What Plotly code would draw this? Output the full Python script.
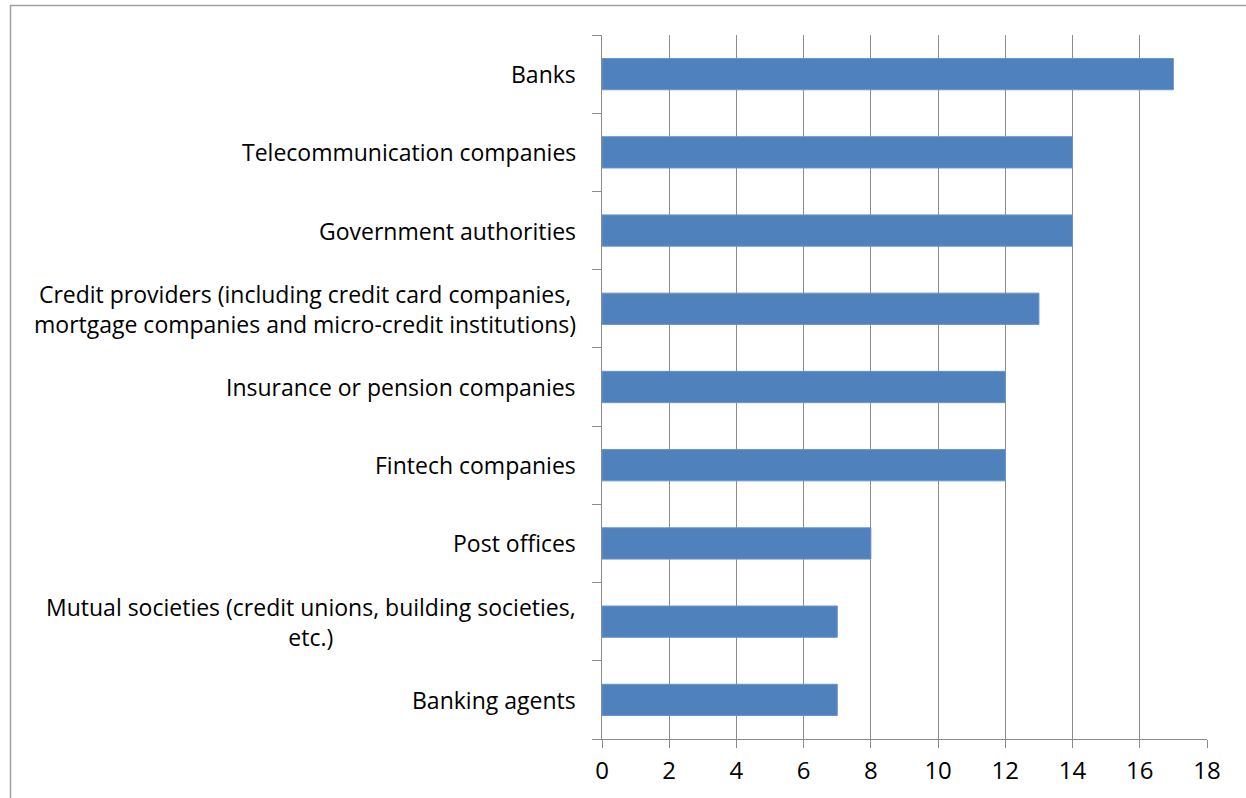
import plotly.graph_objects as go

categories = [
    "Banks",
    "Telecommunication companies",
    "Government authorities",
    "Credit providers (including credit card companies,<br>mortgage companies and micro-credit institutions)",
    "Insurance or pension companies",
    "Fintech companies",
    "Post offices",
    "Mutual societies (credit unions, building societies,<br>etc.)",
    "Banking agents",
]
values = [17, 14, 14, 13, 12, 12, 8, 7, 7]
x_ticks = [0, 2, 4, 6, 8, 10, 12, 14, 16, 18]

W, H = 1246, 798
L, R, T, B = 602, 39, 35, 59
pw, ph = W - L - R, H - T - B

FONT = "Open Sans"
FS = 23
GRID = "#8c8c8c"

fig = go.Figure(go.Bar(
    x=values, y=categories, orientation="h",
    marker=dict(color="#4f81bd", line=dict(color="#6a95c9", width=1)),
    hoverinfo="x+y",
))

annotations = []
for c in categories:
    annotations.append(dict(
        x=0, xref="paper", y=c, yref="y", text=c, showarrow=False,
        xanchor="right", yanchor="middle", align="center", xshift=-24,
        font=dict(family=FONT, size=FS, color="#000000"),
    ))

def px_x(p):
    return (p - L) / pw

def px_y(p):
    return (H - B - p) / ph

shapes = [
    dict(type="line", xref="paper", yref="paper", x0=px_x(10), x1=px_x(1260),
         y0=px_y(5.5), y1=px_y(5.5), line=dict(color="#a0a0a0", width=1.5)),
    dict(type="line", xref="paper", yref="paper", x0=px_x(10.5), x1=px_x(10.5),
         y0=px_y(5), y1=px_y(810), line=dict(color="#a0a0a0", width=1.5)),
]

fig.update_layout(
    width=W, height=H,
    margin=dict(l=L, r=R, t=T, b=B),
    paper_bgcolor="white", plot_bgcolor="white",
    showlegend=False,
    bargap=0.6,
    annotations=annotations,
    shapes=shapes,
    font=dict(family=FONT, size=FS, color="#000000"),
    xaxis=dict(
        range=[0, 18], tickvals=x_ticks, ticktext=[str(v) for v in x_ticks],
        showgrid=True, gridcolor=GRID, gridwidth=1,
        showline=True, linecolor=GRID, linewidth=1,
        ticks="outside", ticklen=8, tickcolor=GRID, tickwidth=1,
        ticklabelstandoff=2,
        tickfont=dict(family=FONT, size=24, color="#000000"),
        zeroline=False, fixedrange=True,
    ),
    yaxis=dict(
        categoryorder="array", categoryarray=categories[::-1],
        autorange=False, range=[-0.5, len(categories) - 0.5],
        showticklabels=False, showgrid=False,
        showline=True, linecolor=GRID, linewidth=1,
        ticks="outside", tickson="boundaries", ticklen=9, tickcolor=GRID, tickwidth=1,
        zeroline=False, fixedrange=True,
    ),
)

fig.write_html("out.html", config={"displayModeBar": False})
